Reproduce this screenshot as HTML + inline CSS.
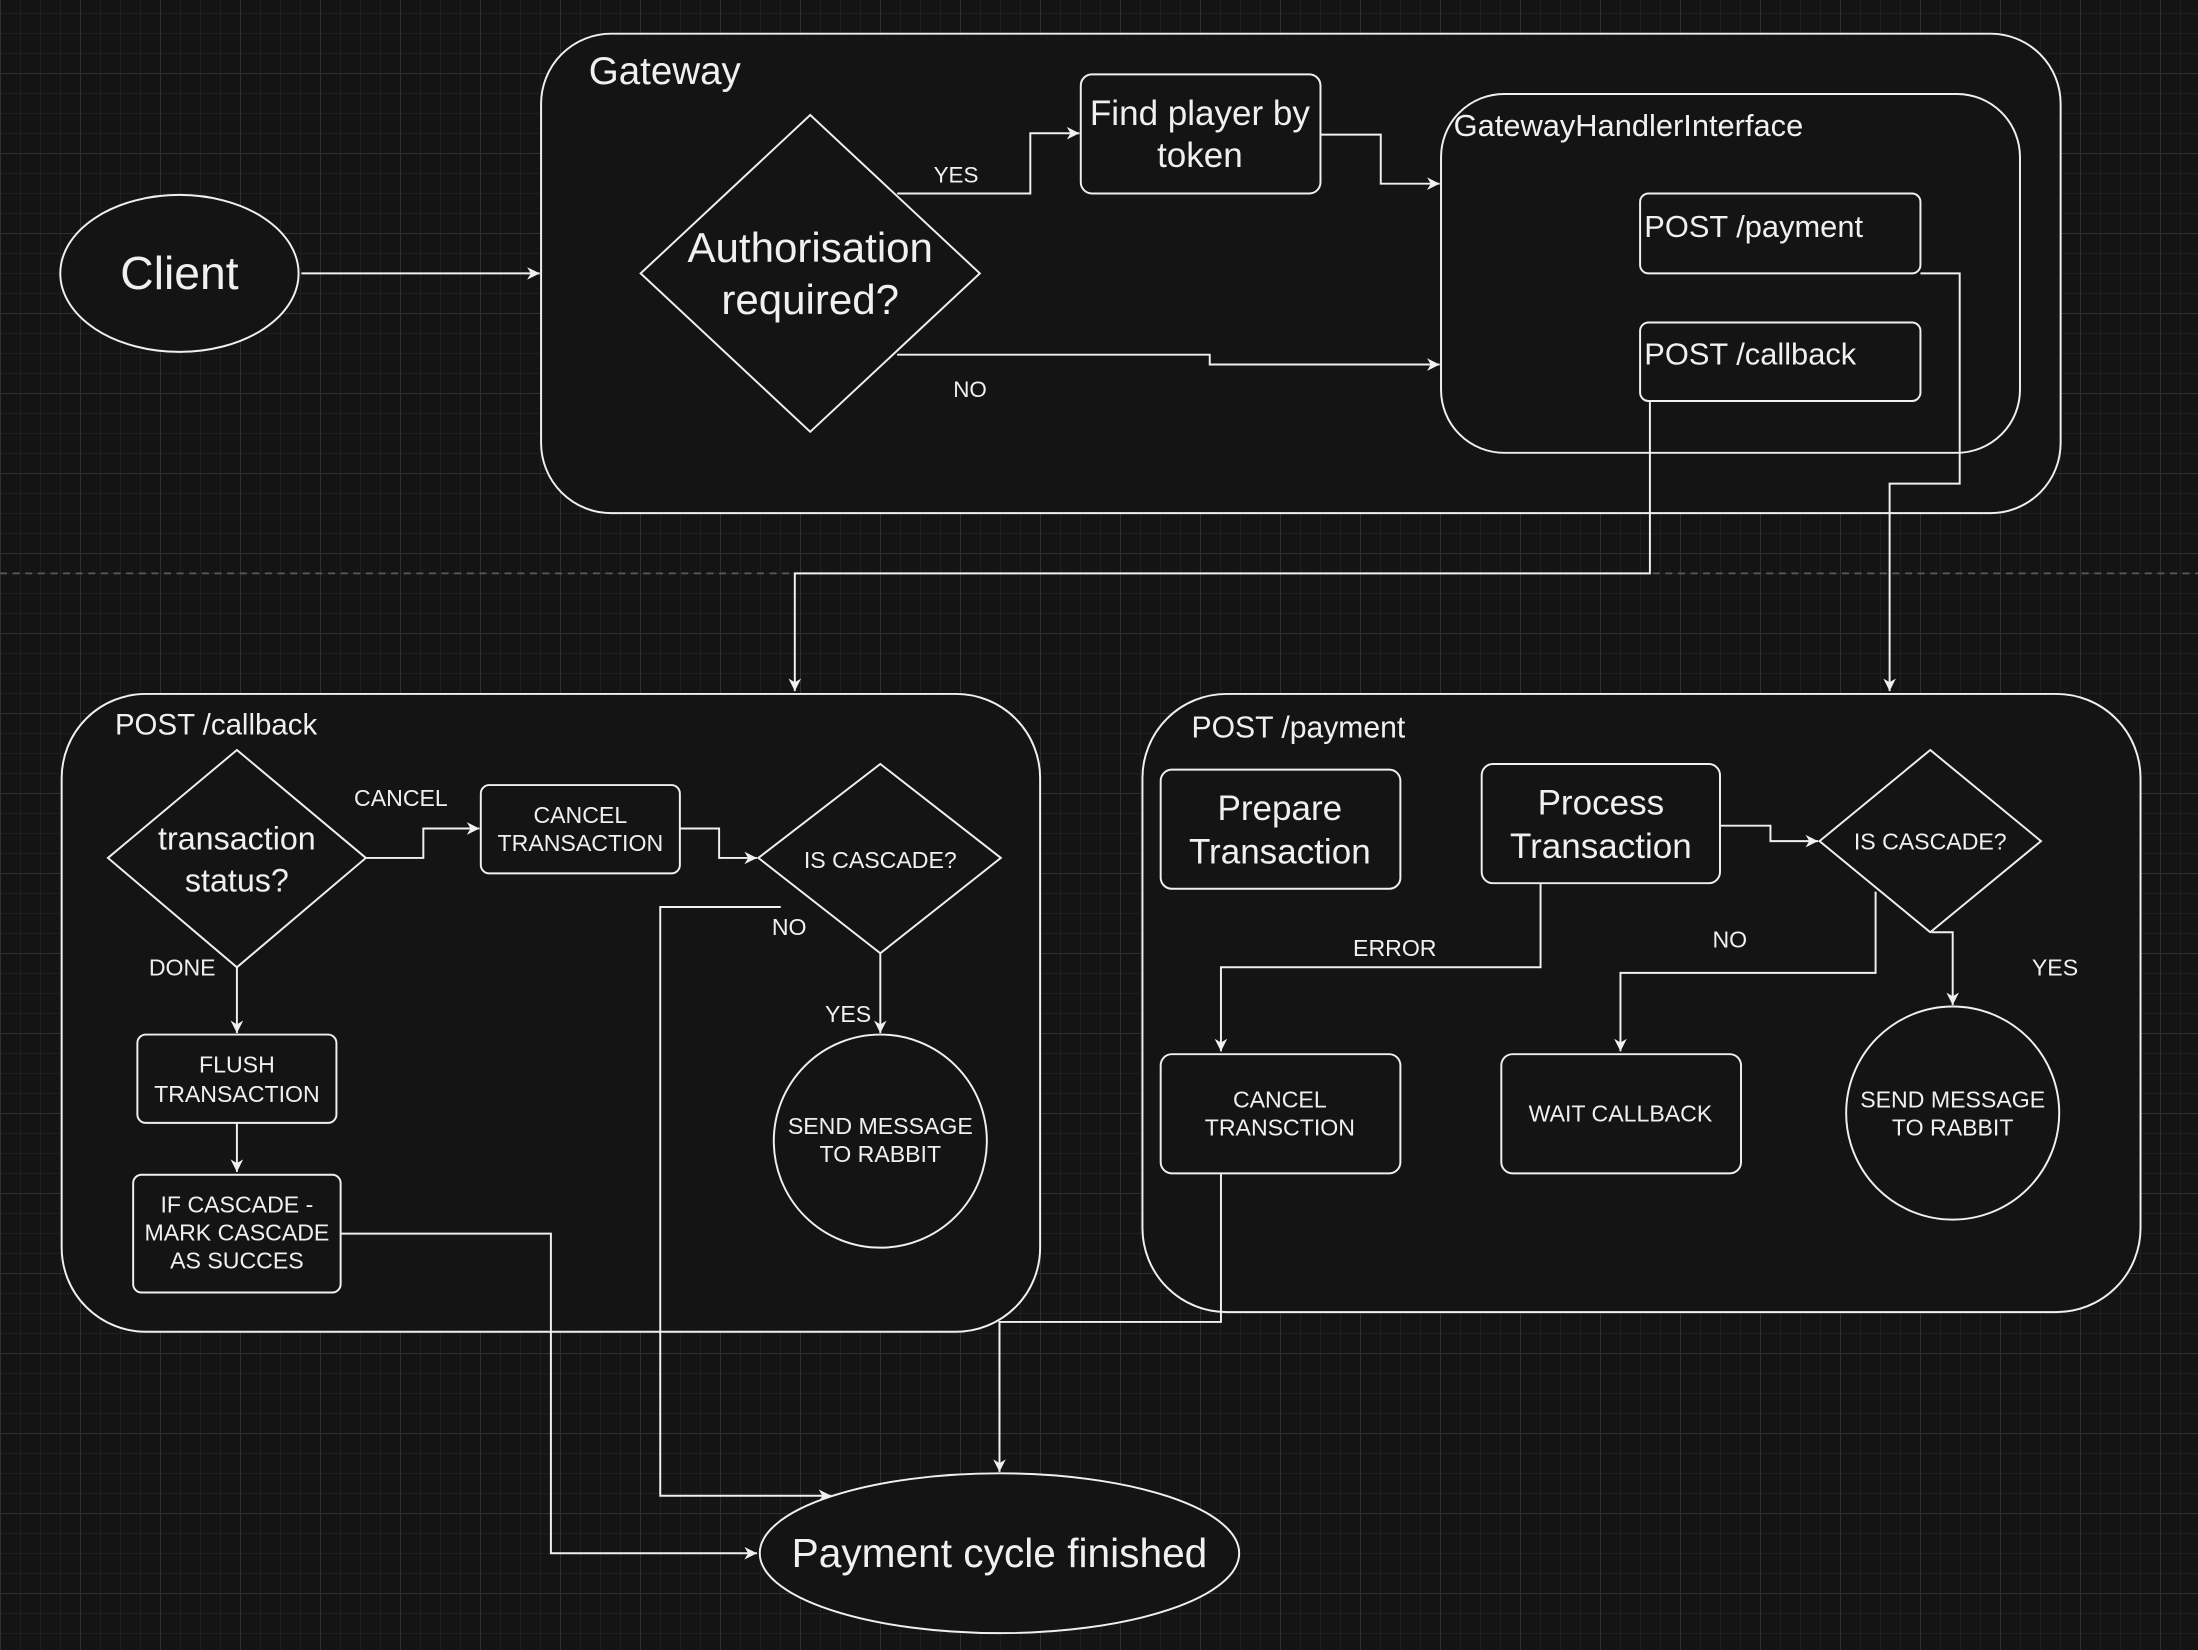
<!DOCTYPE html>
<html><head><meta charset="utf-8"><style>
html,body{margin:0;padding:0;background:#141414;}
#c{position:relative;width:2198px;height:1650px;overflow:hidden;background-color:#141414;
background-image:
linear-gradient(to right,#303030 1px,transparent 1px),
linear-gradient(to bottom,#303030 1px,transparent 1px),
linear-gradient(to right,#1f1f1f 1px,transparent 1px),
linear-gradient(to bottom,#1f1f1f 1px,transparent 1px);
background-size:80px 80px,80px 80px,20px 20px,20px 20px;
background-position:0 -7px,0 -7px,0 -7px,0 -7px;}
svg{position:absolute;left:0;top:0;}
text{font-family:"Liberation Sans",Arial,sans-serif;fill:#f0f0f0;}
</style></head><body><div id="c">
<svg width="2198" height="1650" viewBox="0 0 1568 1177" xmlns="http://www.w3.org/2000/svg">
<defs>
<marker id="a" viewBox="0 0 10 10" refX="10" refY="5" markerWidth="9" markerHeight="9" markerUnits="userSpaceOnUse" orient="auto">
<path d="M0,0 L10,5 L0,10 L3,5 Z" fill="#f0f0f0"/>
</marker>
</defs>
<line x1="0" y1="409" x2="1568" y2="409" stroke="#5a5a5a" stroke-width="1.3" stroke-dasharray="5,4"/>
<g fill="#141414" stroke="#f0f0f0" stroke-width="1.4">
<ellipse cx="128" cy="195" rx="85" ry="56"/>
<rect x="386" y="24" width="1084" height="342" rx="50"/>
<polygon points="578,82 699,195 578,308 457,195"/>
<rect x="771" y="53" width="171" height="85" rx="8"/>
<rect x="1028" y="67" width="413" height="256" rx="45"/>
<rect x="1170" y="138" width="200" height="57" rx="6"/>
<rect x="1170" y="230" width="200" height="56" rx="6"/>
<rect x="44" y="495" width="698" height="455" rx="60"/>
<rect x="815" y="495" width="712" height="441" rx="60"/>
<polygon points="169,535 261,612 169,690 77,612"/>
<rect x="343" y="560" width="142" height="63" rx="6"/>
<polygon points="628,545 714,612 628,680 541,612"/>
<circle cx="628" cy="814" r="76"/>
<rect x="98" y="738" width="142" height="63" rx="6"/>
<rect x="95" y="838" width="148" height="84" rx="6"/>
<rect x="828" y="549" width="171" height="85" rx="8"/>
<rect x="1057" y="545" width="170" height="85" rx="8"/>
<polygon points="1377,535 1456,600 1377,665 1298,600"/>
<rect x="828" y="752" width="171" height="85" rx="8"/>
<rect x="1071" y="752" width="171" height="85" rx="8"/>
<circle cx="1393" cy="794" r="76"/>
</g>
<g fill="none" stroke="#f0f0f0" stroke-width="1.4" marker-end="url(#a)">
<path d="M215,195 H385"/>
<path d="M640,138 H735 V95 H770"/>
<path d="M942,96 H985 V131 H1027"/>
<path d="M640,253 H863 V260 H1027"/>
<path d="M1370,195 H1398 V345 H1348 V493"/>
<path d="M1177,286 V409 H567 V493"/>
<path d="M261,612 H302 V591 H342"/>
<path d="M485,591 H513 V612 H540"/>
<path d="M557,647 H471 V1067 H593"/>
<path d="M628,680 V737"/>
<path d="M169,690 V737"/>
<path d="M169,801 V836"/>
<path d="M243,880 H393 V1108 H540"/>
<path d="M1227,589 H1263 V600 H1297"/>
<path d="M1099,630 V690 H871 V750"/>
<path d="M1338,636 V694 H1156 V750"/>
<path d="M1378,665 H1393 V717"/>
<path d="M871,837 V943 H713 V1050"/>
</g>
<ellipse cx="713" cy="1108" rx="171" ry="57" fill="#141414" stroke="#f0f0f0" stroke-width="1.4"/>
<g text-anchor="middle">
<text x="128" y="206" font-size="33">Client</text>
<text x="578" y="187" font-size="30">Authorisation</text>
<text x="578" y="224" font-size="30">required?</text>
<text x="856" y="89" font-size="25">Find player by</text>
<text x="856" y="119" font-size="25">token</text>
<text x="682" y="130" font-size="16">YES</text>
<text x="692" y="283" font-size="16">NO</text>
<text x="169" y="606" font-size="23">transaction</text>
<text x="169" y="636" font-size="23">status?</text>
<text x="286" y="575" font-size="16.5">CANCEL</text>
<text x="414" y="587" font-size="16.5">CANCEL</text>
<text x="414" y="607" font-size="16.5">TRANSACTION</text>
<text x="628" y="619" font-size="16.5">IS CASCADE?</text>
<text x="563" y="667" font-size="16.5">NO</text>
<text x="605" y="729" font-size="16.5">YES</text>
<text x="628" y="809" font-size="16.5">SEND MESSAGE</text>
<text x="628" y="829" font-size="16.5">TO RABBIT</text>
<text x="130" y="696" font-size="16.5">DONE</text>
<text x="169" y="765" font-size="16.5">FLUSH</text>
<text x="169" y="786" font-size="16.5">TRANSACTION</text>
<text x="169" y="865" font-size="16.5">IF CASCADE -</text>
<text x="169" y="885" font-size="16.5">MARK CASCADE</text>
<text x="169" y="905" font-size="16.5">AS SUCCES</text>
<text x="913" y="585" font-size="25">Prepare</text>
<text x="913" y="616" font-size="25">Transaction</text>
<text x="1142" y="581" font-size="25">Process</text>
<text x="1142" y="612" font-size="25">Transaction</text>
<text x="1377" y="606" font-size="16.5">IS CASCADE?</text>
<text x="995" y="682" font-size="16.5">ERROR</text>
<text x="1234" y="676" font-size="16.5">NO</text>
<text x="1466" y="696" font-size="16.5">YES</text>
<text x="913" y="790" font-size="16.5">CANCEL</text>
<text x="913" y="810" font-size="16.5">TRANSCTION</text>
<text x="1156" y="800" font-size="16.5">WAIT CALLBACK</text>
<text x="1393" y="790" font-size="16.5">SEND MESSAGE</text>
<text x="1393" y="810" font-size="16.5">TO RABBIT</text>
<text x="713" y="1118" font-size="29">Payment cycle finished</text>
</g>
<text x="420" y="60" font-size="27.5">Gateway</text>
<text x="1037" y="97" font-size="22">GatewayHandlerInterface</text>
<text x="1173" y="169" font-size="22">POST /payment</text>
<text x="1173" y="260" font-size="22">POST /callback</text>
<text x="82" y="524" font-size="21">POST /callback</text>
<text x="850" y="526" font-size="21.5">POST /payment</text>
</svg>
</div></body></html>
